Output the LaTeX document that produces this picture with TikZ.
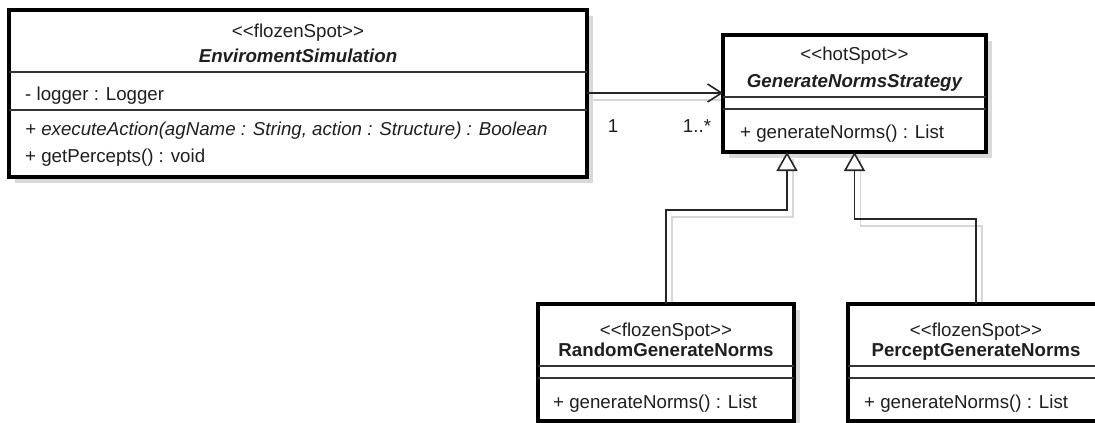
\documentclass[tikz,border=0pt]{standalone}
\usepackage{fontspec}
\setmainfont{Liberation Sans}
\usetikzlibrary{arrows.meta,shadows}
\pgfdeclarelayer{back}
\pgfdeclarelayer{bg}
\pgfsetlayers{back,bg,main}
\newcommand\umlfs{\fontsize{18.7}{22}\selectfont}
\newcommand\stl{<\kern0pt<}
\newcommand\stg{>\kern0pt>}
\tikzset{
  umlbox/.style={draw=black, line width=3.2pt, fill=white, anchor=north west,
    inner sep=0pt, outer sep=0pt,
    drop shadow={shadow xshift=6pt, shadow yshift=-6pt, fill=black!15, opacity=1}},
  sepline/.style={draw=black!80, line width=1.5pt},
  umltxt/.style={inner sep=0pt, anchor=base, font=\umlfs, text=black!88},
  lefttxt/.style={umltxt, anchor=base west},
  assocline/.style={draw=black!85, line width=1.6pt,
    -{Straight Barb[length=14pt,width=18pt,line width=1.6pt]}},
  genline/.style={draw=black!85, line width=1.6pt,
    -{Triangle[open, length=19pt, width=21pt, fill=white, line width=1.6pt]}},
  lineshadow/.style={draw=black!16, line width=1.6pt},
}
\begin{document}
\begin{tikzpicture}[x=1pt,y=-1pt]
\useasboundingbox (0,0) rectangle (1095,423);
\begin{pgfonlayer}{back}
\fill[white] (0,0) rectangle (1095,423);
\end{pgfonlayer}

% class boxes
\node[umlbox, minimum width=578, minimum height=167] (env) at (9,10) {};
\node[umlbox, minimum width=263, minimum height=117] (gns) at (723,35) {};
\node[umlbox, minimum width=256, minimum height=117] (rgn) at (538,304) {};
\node[umlbox, minimum width=256, minimum height=117] (pgn) at (848,304) {};

% helper coordinates
\coordinate (envS1) at (0,72);
\coordinate (envS2) at (0,110);
\coordinate (gnsS1) at (0,97);
\coordinate (gnsS2) at (0,109);
\coordinate (lowS1) at (0,366);
\coordinate (lowS2) at (0,378);
\coordinate (assocY) at (0,93);
\coordinate (genL) at (787,210);
\coordinate (genR) at (854.5,219);

% compartments
\draw[sepline] (env.west |- envS1) -- (env.east |- envS1);
\draw[sepline] (env.west |- envS2) -- (env.east |- envS2);
\draw[sepline] (gns.west |- gnsS1) -- (gns.east |- gnsS1);
\draw[sepline] (gns.west |- gnsS2) -- (gns.east |- gnsS2);
\draw[sepline] (rgn.west |- lowS1) -- (rgn.east |- lowS1);
\draw[sepline] (rgn.west |- lowS2) -- (rgn.east |- lowS2);
\draw[sepline] (pgn.west |- lowS1) -- (pgn.east |- lowS1);
\draw[sepline] (pgn.west |- lowS2) -- (pgn.east |- lowS2);

% texts: EnviromentSimulation
\node[umltxt] (envSt) at (298,37) {\stl flozenSpot\stg};
\node[umltxt] (envNm) at (298,62) {\bfseries\itshape EnviromentSimulation};
\node[lefttxt] (envA1) at (25,100) {- logger : Logger};
\node[lefttxt] (envO1) at (25,135) {\itshape + executeAction(agName : String, action : Structure) : Boolean};
\node[lefttxt] (envO2) at (25,162) {+ getPercepts() : void};

% GenerateNormsStrategy
\node[umltxt] (gnsSt) at (854.5,60) {\stl hotSpot\stg};
\node[umltxt] (gnsNm) at (854.5,87) {\bfseries\itshape GenerateNormsStrategy};
\node[lefttxt] (gnsO1) at (740,138) {+ generateNorms() : List};

% RandomGenerateNorms
\node[umltxt] (rgnSt) at (666,336) {\stl flozenSpot\stg};
\node[umltxt] (rgnNm) at (666,356) {\bfseries RandomGenerateNorms};
\node[lefttxt] (rgnO1) at (553,408) {+ generateNorms() : List};

% PerceptGenerateNorms
\node[umltxt] (pgnSt) at (976,336) {\stl flozenSpot\stg};
\node[umltxt] (pgnNm) at (976,356) {\bfseries PerceptGenerateNorms};
\node[lefttxt] (pgnO1) at (864,408) {+ generateNorms() : List};

% connector shadows
\begin{pgfonlayer}{bg}
\begin{scope}[transform canvas={shift={(6,7)}}]
\draw[lineshadow] (env.east |- assocY) -- (gns.west |- assocY);
\draw[lineshadow] (rgn.north) |- (genL) -- (gns.south -| genL);
\draw[lineshadow] (pgn.north) |- (genR) -- (gns.south);
\end{scope}
\end{pgfonlayer}

% association
\draw[assocline] (env.east |- assocY) -- (gns.west |- assocY);
\node[umltxt] (mulA) at (613,132) {1};
\node[umltxt] (mulB) at (697,132) {1..*};

% generalizations
\draw[genline] (rgn.north) |- (genL) -- (gns.south -| genL);
\draw[genline] (pgn.north) |- (genR) -- (gns.south);
\end{tikzpicture}
\end{document}
